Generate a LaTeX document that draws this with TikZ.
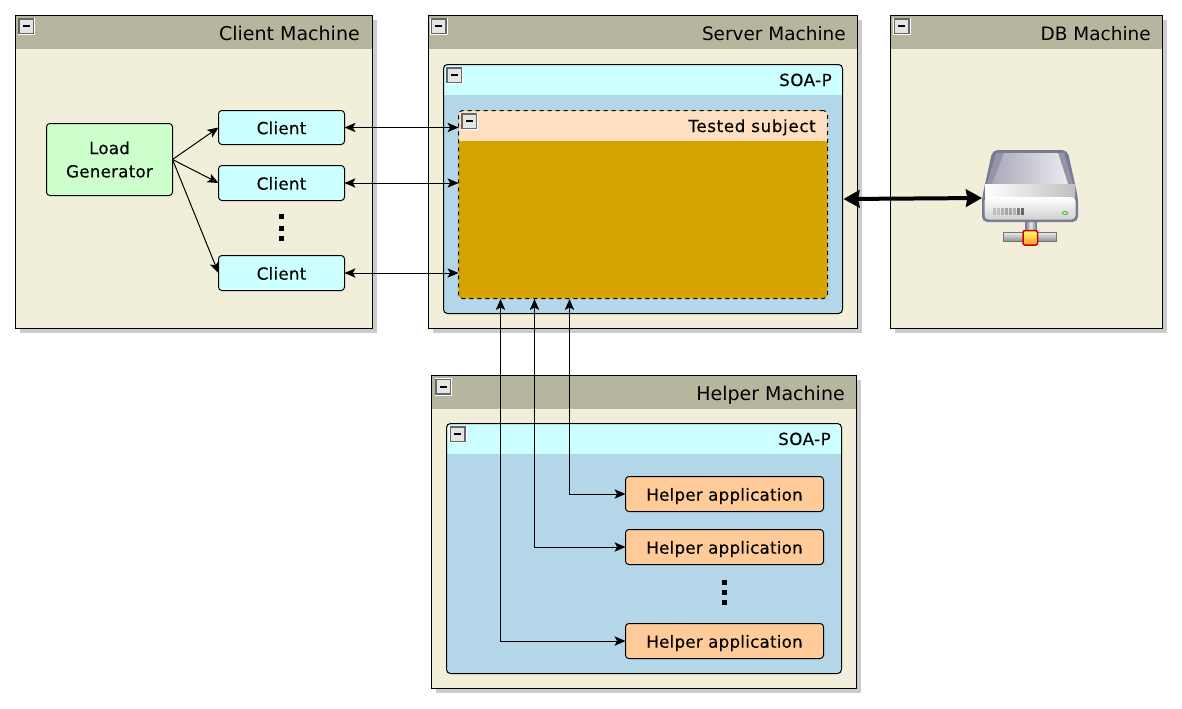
\documentclass[tikz,border=0pt]{standalone}
\usepackage{fontspec}
\setmainfont{DejaVu Sans}
\usetikzlibrary{arrows.meta,shadows}

\def\px{.75pt}
\definecolor{headcol}{RGB}{182,181,158}
\definecolor{machcol}{RGB}{241,238,217}
\definecolor{cyancol}{RGB}{204,255,255}
\definecolor{soacol}{RGB}{179,215,232}
\definecolor{peachcol}{RGB}{255,223,194}
\definecolor{goldcol}{RGB}{214,163,0}
\definecolor{appcol}{RGB}{255,204,153}
\definecolor{loadcol}{RGB}{204,255,204}
\definecolor{diskline}{RGB}{122,122,148}

\tikzset{
   boxsize/.style 2 args={minimum width=#1*\px,minimum height=#2*\px},
   panel/.style n args={3}{anchor=north west,outer sep=0pt,inner sep=0pt,draw,line width=\px,fill=#2,
      path picture={\fill[#1,sharp corners] (path picture bounding box.north west) rectangle
         ([yshift=-#3*\px]path picture bounding box.north east);}},
   machine/.style={panel={headcol}{machcol}{33.5},drop shadow={shadow xshift=3pt,shadow yshift=-3pt,fill=black!20,opacity=1}},
   soap/.style={panel={cyancol}{soacol}{30.5},rounded corners=3pt},
   subject/.style={panel={peachcol}{goldcol}{30},rounded corners=3pt,dashed},
   item/.style={anchor=north west,outer sep=0pt,draw,line width=\px,rounded corners=2.5pt,
      font=\fontsize{12.5pt}{15.5pt}\selectfont\addfontfeature{LetterSpace=1.5,FakeBold=0.25}},
   itemline/.style={item,text height=11.5pt,text depth=1.5pt},
   title/.style={anchor=base east,inner sep=0pt,font=\fontsize{14.25pt}{17pt}\selectfont},
   subtitle/.style={anchor=base east,inner sep=0pt,font=\fontsize{12.5pt}{15pt}\selectfont\addfontfeature{LetterSpace=3,FakeBold=0.25}},
   icon/.style={anchor=north west,outer sep=0pt,inner sep=0pt,boxsize={14.5}{14.5},fill=black!10,draw=black!60,line width=1.2*\px,
      preaction={draw=white,line width=3*\px},
      path picture={\fill[black,sharp corners] ([xshift=-3.5*\px,yshift=-1*\px]path picture bounding box.center) rectangle
         ([xshift=3.5*\px,yshift=1*\px]path picture bounding box.center);}},
   dot/.style={fill=black,inner sep=0pt,minimum size=5*\px},
   link/.style={line width=\px},
   dblink/.style={line width=4*\px,{Stealth[length=12pt,width=13pt,inset=1pt]}-{Stealth[length=12pt,width=13pt,inset=1pt]}},
}

\begin{document}
\begin{tikzpicture}[x=\px,y=-\px,>={Stealth[length=8.25pt,width=7pt,inset=2pt]}]
   \useasboundingbox (0,0) rectangle (1182,708);

   \node[machine,boxsize={357}{313}] (client) at (15.5,15.5) {};
   \node[machine,boxsize={429}{313}] (server) at (428.5,15.5) {};
   \node[machine,boxsize={272}{313}] (dbm) at (890.5,15.5) {};
   \node[machine,boxsize={425}{313}] (helper) at (431.5,375.5) {};

   \node[soap,boxsize={399}{249}] (soa1) at (443.5,64.5) {};
   \node[soap,boxsize={395}{250}] (soa2) at (446.5,423.5) {};
   \node[subject,boxsize={369}{188}] (tested) at (458.5,110.5) {};

   \node[title] (tclient) at (360,40) {Client Machine};
   \node[title,font=\fontsize{13.85pt}{17pt}\selectfont] (tserver) at (846,40) {Server Machine};
   \node[title,font=\fontsize{13.85pt}{17pt}\selectfont] (tdbm) at (1151,40) {DB Machine};
   \node[title] (thelper) at (845,400) {Helper Machine};
   \node[subtitle] (tsoa1) at (832,86) {SOA-P};
   \node[subtitle] (tsoa2) at (831,445) {SOA-P};
   \node[subtitle,font=\fontsize{12.5pt}{15pt}\selectfont\addfontfeature{LetterSpace=4,FakeBold=0.25}] (ttested) at (816,132) {Tested subject};

   \node[icon] (i1) at (19,19) {};
   \node[icon] (i2) at (431.5,19) {};
   \node[icon] (i3) at (894.5,19) {};
   \node[icon] (i4) at (436,379.5) {};
   \node[icon] (i5) at (447,68) {};
   \node[icon] (i6) at (450.5,427) {};
   \node[icon] (i7) at (462,114) {};

   \node[item,fill=loadcol,boxsize={126}{72},align=center,inner sep=0pt] (loadgen) at (46.5,123.5) {Load\\[2pt]Generator};
   \node[itemline,fill=cyancol,boxsize={126}{34}] (client1) at (218.5,110.5) {Client};
   \node[itemline,fill=cyancol,boxsize={126}{35}] (client2) at (218.5,165.5) {Client};
   \node[itemline,fill=cyancol,boxsize={126}{35}] (client3) at (218.5,255.5) {Client};
   \node[itemline,fill=appcol,boxsize={198}{35}] (app1) at (625.5,476.5) {Helper application};
   \node[itemline,fill=appcol,boxsize={198}{35}] (app2) at (625.5,529.5) {Helper application};
   \node[itemline,fill=appcol,boxsize={198}{35}] (app3) at (625.5,623.5) {Helper application};

   \foreach \y in {216,228,238} \node[dot] (da\y) at (281.5,\y) {};
   \foreach \y in {582,592,602} \node[dot] (db\y) at (724.5,\y) {};

   \coordinate (t1) at (569.5,299);
   \coordinate (t2) at (534.5,299);
   \coordinate (t3) at (500.5,299);
   \coordinate (soaright) at (843.5,199);
   \coordinate (diskleft) at (982,198);

   % disk icon
   \shade[top color=black!8,bottom color=black!45,draw=black!55,line width=1.3*\px] (1003.5,232.5) rectangle (1056.5,241.5);
   \shade[left color=diskline,right color=diskline,middle color=black!8,draw=diskline,line width=\px] (1025.5,220) rectangle (1036,233);
   \shade[top color=yellow!60,bottom color=orange!80,draw=red!80!black,line width=1.5*\px,rounded corners=1.5pt] (1023,230.5) rectangle (1037.5,245);
   \fill[diskline,rounded corners=4pt]
      (992.5,150) -- (1067.5,150) -- (1078,198) -- (1078,222) -- (982,222) -- (982,198) -- cycle;
   \fill[black!7!diskline!75] (996,153) -- (1064,153) -- (1073,184) -- (987,184) -- cycle;
   \shade[left color=diskline!65,right color=diskline!15] (1004,153) -- (1058,153) -- (1068,184) -- (992,184) -- cycle;
   \shade[left color=white,right color=black!25] (985,184) rectangle (1075,197);
   \shade[top color=white,bottom color=black!18,rounded corners=3pt] (984.5,197) rectangle (1075.5,219.5);
   \foreach \x/\s in {993/25,997/25,1001/30,1005/35,1009/35,1013/30,1017/50,1021/60}
      \fill[black!\s] (\x,208) rectangle ++(3,7);
   \fill[green!50!black!60] (1065,213) ellipse (3.5 and 2);
   \fill[green!40] (1065,213) ellipse (2 and 1);

   \path (loadgen.east) edge[->,link] (client1.west);
   \path (loadgen.east) edge[->,link] (client2.west);
   \path (loadgen.east) edge[->,link] (client3.west);

   \path (client1.east) edge[<->,link] (client1.east -| tested.west);
   \path (client2.east) edge[<->,link] (client2.east -| tested.west);
   \path (client3.east) edge[<->,link] (client3.east -| tested.west);

   \draw[<->,link] (t1) |- (app1.west);
   \draw[<->,link] (t2) |- (app2.west);
   \draw[<->,link] (t3) |- (app3.west);

   \path (soaright) edge[dblink] (diskleft);
\end{tikzpicture}
\end{document}
